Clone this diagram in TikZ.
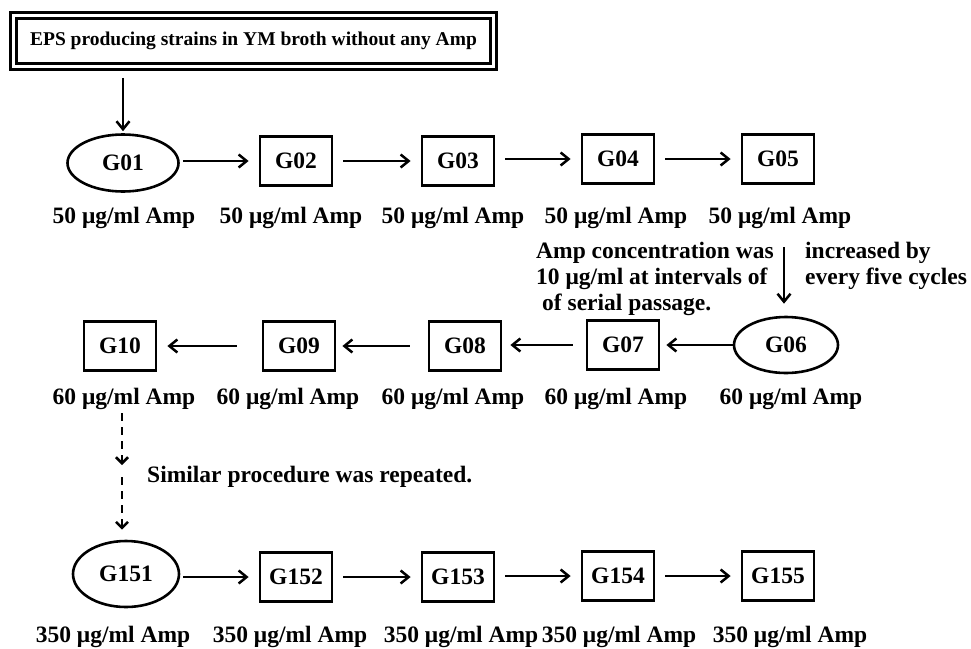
\documentclass[tikz,border=0pt]{standalone}
\usepackage{fontspec}
\setmainfont{Liberation Serif}
\usetikzlibrary{arrows.meta,shapes.geometric}

\begin{document}
\begin{tikzpicture}[x=1pt,y=-1pt,
  every node/.style={font=\bfseries\fontsize{23.5}{26}\selectfont},
  gbox/.style={draw,line width=2.8pt,minimum width=72pt,minimum height=49pt,inner sep=0pt},
  gell/.style={draw,ellipse,line width=2.6pt,inner sep=0pt},
  amp/.style={anchor=base,inner sep=0pt},
  flow/.style={line width=2.5pt,-{Straight Barb[length=8pt,width=13pt]},shorten >=10pt,shorten <=10pt},
  dflow/.style={line width=2.5pt,-{Straight Barb[length=6pt,width=12pt]},dash pattern=on 8pt off 6pt}]
\useasboundingbox (0,0) rectangle (971,648);
\node[draw,double,double distance=3.5pt,line width=2.8pt,minimum width=480pt,minimum height=51pt,
  font=\bfseries\fontsize{19.5}{22}\selectfont] (src) at (253.5,41) {EPS producing strains in YM broth without any Amp};
\node[gell,minimum width=111pt,minimum height=57pt] (g01) at (123,163) {G01};
\node[gbox] (g02) at (296,161) {G02};
\node[gbox] (g03) at (458,161) {G03};
\node[gbox] (g04) at (618,159) {G04};
\node[gbox] (g05) at (778,159) {G05};
\node[amp] (l01) at (124,223) {50 μg/ml Amp};
\node[amp] (l02) at (291,223) {50 μg/ml Amp};
\node[amp] (l03) at (453,223) {50 μg/ml Amp};
\node[amp] (l04) at (616,223) {50 μg/ml Amp};
\node[amp] (l05) at (780,223) {50 μg/ml Amp};
\draw[flow,shorten >=2pt] (g01 |- src.south) -- (g01.north);
\draw[flow,shorten <=3pt] (g01.east |- g02.west) -- (g02);
\draw[flow] (g02) -- (g03.west |- g02);
\draw[flow] (g03.east |- g04) -- (g04);
\draw[flow] (g04) -- (g05);
\node[anchor=north west,align=left,inner sep=0pt] (note) at (536,242)
  {Amp concentration was\\10 μg/ml at intervals of\\\hspace*{6pt}of serial passage.};
\node[anchor=north west,align=left,inner sep=0pt] (note2) at (805,242)
  {increased by\\every five cycles};
\node[gell,minimum width=104pt,minimum height=56pt] (g06) at (786,345) {G06};
\node[gbox] (g07) at (623,345) {G07};
\node[gbox] (g08) at (465,346) {G08};
\node[gbox] (g09) at (299,346) {G09};
\node[gbox] (g10) at (120,346) {G10};
\node[amp] (l06) at (791,404) {60 μg/ml Amp};
\node[amp] (l07) at (616,404) {60 μg/ml Amp};
\node[amp] (l08) at (453,404) {60 μg/ml Amp};
\node[amp] (l09) at (288,404) {60 μg/ml Amp};
\node[amp] (l10) at (124,404) {60 μg/ml Amp};
\coordinate (turn) at (784,247);
\draw[flow,shorten <=0pt,shorten >=12pt] (turn) -- (turn |- g06.north);
\draw[flow,shorten <=0pt,shorten >=6pt] (g06) -- (g07);
\draw[flow,shorten <=13pt,shorten >=8pt] (g07) -- (g08.east |- g07);
\draw[flow,shorten <=18pt,shorten >=6pt] (g08) -- (g09);
\draw[flow,shorten <=25pt,shorten >=10pt] (g09) -- (g10);
\node[anchor=west,inner sep=0pt] (sim) at (147,477) {Similar procedure was repeated.};
\node[gell,minimum width=106pt,minimum height=66pt] (g151) at (126,574) {G151};
\node[gbox] (g152) at (296,577) {G152};
\node[gbox] (g153) at (458,577) {G153};
\node[gbox] (g154) at (618,576) {G154};
\node[gbox] (g155) at (778,576) {G155};
\node[amp] (l151) at (113,642) {350 μg/ml Amp};
\node[amp] (l152) at (290,642) {350 μg/ml Amp};
\node[amp] (l153) at (461,642) {350 μg/ml Amp};
\node[amp] (l154) at (619,642) {350 μg/ml Amp};
\node[amp] (l155) at (790,642) {350 μg/ml Amp};
\coordinate (mid) at (122,471);
\draw[dflow,shorten <=4pt,shorten >=6pt] (l10.south -| mid) -- (mid);
\draw[dflow,shorten <=6pt,shorten >=10pt] (mid) -- (mid |- g151.north);
\draw[flow,shorten <=3pt] (g151.east |- g152.west) -- (g152);
\draw[flow] (g152) -- (g153);
\draw[flow] (g153.east |- g154) -- (g154);
\draw[flow] (g154) -- (g155);
\end{tikzpicture}
\end{document}
